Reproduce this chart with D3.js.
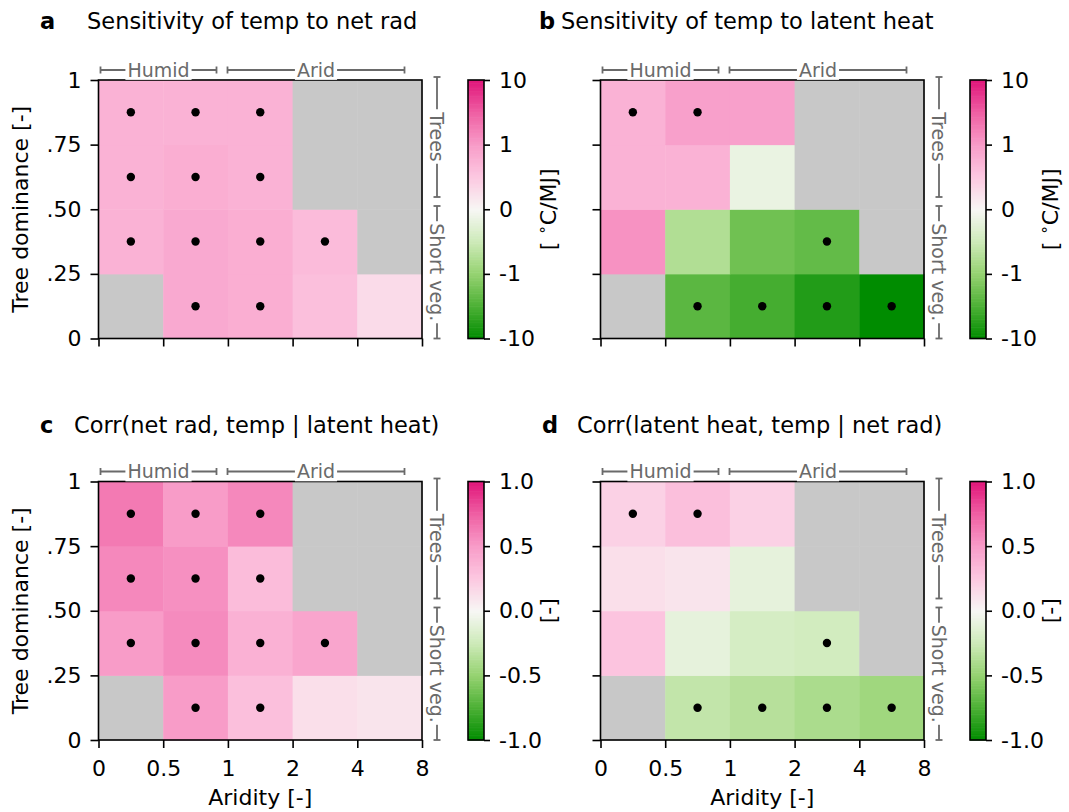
<!DOCTYPE html>
<html>
<head>
<meta charset="utf-8">
<script src="https://cdn.jsdelivr.net/npm/d3@7"></script>
<style>
  body { margin: 0; background: #fff; }
  svg { font-family: "DejaVu Sans", sans-serif; }
</style>
</head>
<body>
<svg id="chart" width="1069" height="812"></svg>
<script>
// bin edges
var aridityEdges = ["0", "0.5", "1", "2", "4", "8"];
var treeEdges = ["0", ".25", ".50", ".75", "1"];

// cell values, first row = tree dominance 0-.25, null = no data
var sensNetRad = [
  [null, 0.85, 0.8, 0.6, 0.3],
  [0.75, 0.85, 0.8, 0.65, null],
  [0.75, 0.8, 0.75, null, null],
  [0.75, 0.75, 0.75, null, null]
];
var sensLatent = [
  [null, -2.5, -3.5, -6, -10],
  [1.2, -0.75, -1.8, -2.2, null],
  [0.75, 0.75, -0.15, null, null],
  [0.75, 0.95, 0.95, null, null]
];
var corrNetRad = [
  [null, 0.5, 0.3, 0.13, 0.1],
  [0.5, 0.57, 0.38, 0.45, null],
  [0.58, 0.55, 0.32, null, null],
  [0.64, 0.5, 0.58, null, null]
];
var corrLatent = [
  [null, -0.3, -0.35, -0.4, -0.45],
  [0.27, -0.1, -0.2, -0.22, null],
  [0.13, 0.1, -0.1, null, null],
  [0.2, 0.3, 0.2, null, null]
];
// significant cells (dots)
var sigNetRad = [
  [0, 1, 1, 0, 0],
  [1, 1, 1, 1, 0],
  [1, 1, 1, 0, 0],
  [1, 1, 1, 0, 0]
];
var sigLatent = [
  [0, 1, 1, 1, 1],
  [0, 0, 0, 1, 0],
  [0, 0, 0, 0, 0],
  [1, 1, 0, 0, 0]
];

var sensTicks = [-10, -1, 0, 1, 10];
var sensTickLabels = ["-10", "-1", "0", "1", "10"];
var corrTicks = [-1, -0.5, 0, 0.5, 1];
var corrTickLabels = ["-1.0", "-0.5", "0.0", "0.5", "1.0"];

// colour map green - white - pink
var cmap = d3.scaleLinear()
  .domain([0, 0.125, 0.25, 0.375, 0.5, 0.625, 0.75, 0.875, 1])
  .range(["#008c00", "#4cb035", "#95d270", "#cdeab8", "#f7f7f4", "#fcc8e1", "#f89cc8", "#ef5fa3", "#e0157a"])
  .interpolate(d3.interpolateRgb);

function symT(v) {
  var a = Math.abs(v);
  return Math.sign(v) * (a <= 1 ? a : 1 + Math.log10(a));
}

var grey = "#c8c8c8";
var annoGrey = "#6a6a6a";
var fs = 22;
var svg = d3.select("#chart");

var panels = [
  {letter: "a", title: "Sensitivity of temp to net rad", lx: 40, tx: 87, ty: 29,
   x0: 98.5, y0: 80, vals: sensNetRad, sig: sigNetRad, kind: "sens", ylab: true, xlab: false},
  {letter: "b", title: "Sensitivity of temp to latent heat", lx: 539, tx: 561, ty: 29,
   x0: 600.5, y0: 80, vals: sensLatent, sig: sigLatent, kind: "sens", ylab: false, xlab: false},
  {letter: "c", title: "Corr(net rad, temp | latent heat)", lx: 40, tx: 74, ty: 433,
   x0: 98.5, y0: 481.5, vals: corrNetRad, sig: sigNetRad, kind: "corr", ylab: true, xlab: true},
  {letter: "d", title: "Corr(latent heat, temp | net rad)", lx: 542, tx: 577, ty: 433,
   x0: 600.5, y0: 481.5, vals: corrLatent, sig: sigLatent, kind: "corr", ylab: false, xlab: true}
];
var pw = 323.5, ph = 258.5;

panels.forEach(function(p) {
  var g = svg.append("g");
  var x = d3.scaleLinear().domain([0, aridityEdges.length - 1]).range([p.x0, p.x0 + pw]);
  var y = d3.scaleLinear().domain([0, treeEdges.length - 1]).range([p.y0 + ph, p.y0]);

  var toT = p.kind == "sens"
    ? function(v) { return (symT(v) + 2) / 4; }
    : function(v) { return (v + 1) / 2; };

  // cells
  var cells = [];
  p.vals.forEach(function(row, r) {
    row.forEach(function(v, c) { cells.push({r: r, c: c, v: v, s: p.sig[r][c]}); });
  });
  g.selectAll(".cell").data(cells).enter().append("rect")
    .attr("x", function(d) { return x(d.c); })
    .attr("y", function(d) { return y(d.r + 1); })
    .attr("width", function(d) { return x(d.c + 1) - x(d.c) + 0.5; })
    .attr("height", function(d) { return y(d.r) - y(d.r + 1) + 0.5; })
    .attr("fill", function(d) { return d.v === null ? grey : cmap(toT(d.v)); });

  g.selectAll(".dot").data(cells.filter(function(d) { return d.s; })).enter().append("circle")
    .attr("cx", function(d) { return x(d.c + 0.5); })
    .attr("cy", function(d) { return y(d.r + 0.5); })
    .attr("r", 4.2)
    .attr("fill", "black");

  // axes
  var xa = g.append("g").attr("transform", "translate(0," + (p.y0 + ph) + ")")
    .call(d3.axisBottom(x).tickValues(d3.range(aridityEdges.length)).tickSize(8).tickPadding(12)
      .tickFormat(function(d) { return p.xlab ? aridityEdges[d] : ""; }));
  var ya = g.append("g").attr("transform", "translate(" + p.x0 + ",0)")
    .call(d3.axisLeft(y).tickValues(d3.range(treeEdges.length)).tickSize(8).tickPadding(9)
      .tickFormat(function(d) { return p.ylab ? treeEdges[d] : ""; }));
  [xa, ya].forEach(function(a) {
    a.select(".domain").remove();
    a.selectAll("line").attr("stroke", "black").attr("stroke-width", 1.6);
    a.selectAll("text").attr("font-size", fs).attr("fill", "black").attr("font-family", "DejaVu Sans");
  });
  g.append("rect").attr("x", p.x0).attr("y", p.y0).attr("width", pw).attr("height", ph)
    .attr("fill", "none").attr("stroke", "black").attr("stroke-width", 1.6);

  if (p.ylab) {
    g.append("text").attr("transform", "translate(20," + (p.y0 + ph / 2) + ") rotate(-90)")
      .attr("text-anchor", "middle").attr("dy", "0.35em").attr("font-size", fs).text("Tree dominance [-]");
  }
  if (p.xlab) {
    g.append("text").attr("x", p.x0 + pw / 2).attr("y", p.y0 + ph + 65)
      .attr("text-anchor", "middle").attr("font-size", fs).text("Aridity [-]");
  }

  // titles
  g.append("text").attr("x", p.lx).attr("y", p.ty).attr("font-size", 22.5).attr("font-weight", "bold").text(p.letter);
  g.append("text").attr("x", p.tx).attr("y", p.ty).attr("font-size", 22.5).text(p.title);

  // climate / vegetation brackets
  function hBracket(xa0, xa1, yy, label) {
    var b = g.append("g").attr("stroke", annoGrey).attr("stroke-width", 1.8);
    b.append("line").attr("x1", xa0).attr("x2", xa1).attr("y1", yy).attr("y2", yy);
    b.append("line").attr("x1", xa0).attr("x2", xa0).attr("y1", yy - 3.5).attr("y2", yy + 3.5);
    b.append("line").attr("x1", xa1).attr("x2", xa1).attr("y1", yy - 3.5).attr("y2", yy + 3.5);
    var t = g.append("text").attr("x", (xa0 + xa1) / 2).attr("y", yy).attr("dy", "0.36em")
      .attr("text-anchor", "middle").attr("font-size", 19).attr("fill", annoGrey).text(label);
    var bb = t.node().getBBox();
    g.insert("rect", function() { return t.node(); })
      .attr("x", bb.x - 2).attr("y", bb.y + 1).attr("width", bb.width + 4).attr("height", bb.height - 2)
      .attr("fill", "white");
  }
  function vBracket(yb0, yb1, xx, label) {
    var b = g.append("g").attr("stroke", annoGrey).attr("stroke-width", 1.8);
    b.append("line").attr("x1", xx).attr("x2", xx).attr("y1", yb0).attr("y2", yb1);
    b.append("line").attr("x1", xx - 3.5).attr("x2", xx + 3.5).attr("y1", yb0).attr("y2", yb0);
    b.append("line").attr("x1", xx - 3.5).attr("x2", xx + 3.5).attr("y1", yb1).attr("y2", yb1);
    var t = g.append("text").attr("transform", "translate(" + xx + "," + ((yb0 + yb1) / 2) + ") rotate(90)")
      .attr("dy", "0.36em").attr("text-anchor", "middle").attr("font-size", 19).attr("fill", annoGrey).text(label);
    var bb = t.node().getBBox();
    g.insert("rect", function() { return t.node(); })
      .attr("transform", "translate(" + xx + "," + ((yb0 + yb1) / 2) + ") rotate(90)")
      .attr("x", bb.x - 2).attr("y", bb.y + 1).attr("width", bb.width + 4).attr("height", bb.height - 2)
      .attr("fill", "white");
  }
  hBracket(p.x0 + 2, p.x0 + 118, p.y0 - 10, "Humid");
  hBracket(p.x0 + 129, p.x0 + 306, p.y0 - 10, "Arid");
  vBracket(p.y0 - 3, p.y0 + 117, p.x0 + pw + 15, "Trees");
  vBracket(p.y0 + 126, p.y0 + ph, p.x0 + pw + 15, "Short veg.");

  // colour bar
  var cx = p.x0 + pw + 46, cw = 16;
  var cb = svg.append("g");
  var tY = d3.scaleLinear().domain([0, 1]).range([p.y0 + ph, p.y0]);
  var n = 160;
  cb.selectAll(".cbs").data(d3.range(n)).enter().append("rect")
    .attr("x", cx).attr("width", cw)
    .attr("y", function(i) { return tY((i + 1) / n); })
    .attr("height", function(i) { return tY(i / n) - tY((i + 1) / n) + 0.6; })
    .attr("fill", function(i) { return cmap((i + 0.5) / n); });
  var cs, tv, tl;
  if (p.kind == "sens") {
    cs = d3.scaleLinear().domain([-2, 2]).range([p.y0 + ph, p.y0]);
    tv = sensTicks.map(symT); tl = sensTickLabels;
  } else {
    cs = d3.scaleLinear().domain([-1, 1]).range([p.y0 + ph, p.y0]);
    tv = corrTicks; tl = corrTickLabels;
  }
  var ca = cb.append("g").attr("transform", "translate(" + (cx + cw) + ",0)")
    .call(d3.axisRight(cs).tickValues(tv).tickSize(6).tickPadding(9)
      .tickFormat(function(d, i) { return tl[i]; }));
  ca.select(".domain").remove();
  ca.selectAll("line").attr("stroke", "black").attr("stroke-width", 1.6);
  ca.selectAll("text").attr("font-size", fs).attr("fill", "black").attr("font-family", "DejaVu Sans");
  cb.append("rect").attr("x", cx).attr("y", p.y0).attr("width", cw).attr("height", ph)
    .attr("fill", "none").attr("stroke", "black").attr("stroke-width", 1.6);

  var ul = cb.append("text").attr("transform", "translate(" + (cx + 80) + "," + (p.y0 + ph / 2) + ") rotate(-90)")
    .attr("text-anchor", "middle").attr("dy", "0.35em").attr("font-size", fs);
  if (p.kind == "sens") {
    ul.append("tspan").text("[ ");
    ul.append("tspan").attr("baseline-shift", "super").attr("font-size", 15).text("\u2218");
    ul.append("tspan").text("C/MJ]");
  } else {
    ul.text("[-]");
  }
});
</script>
</body>
</html>
